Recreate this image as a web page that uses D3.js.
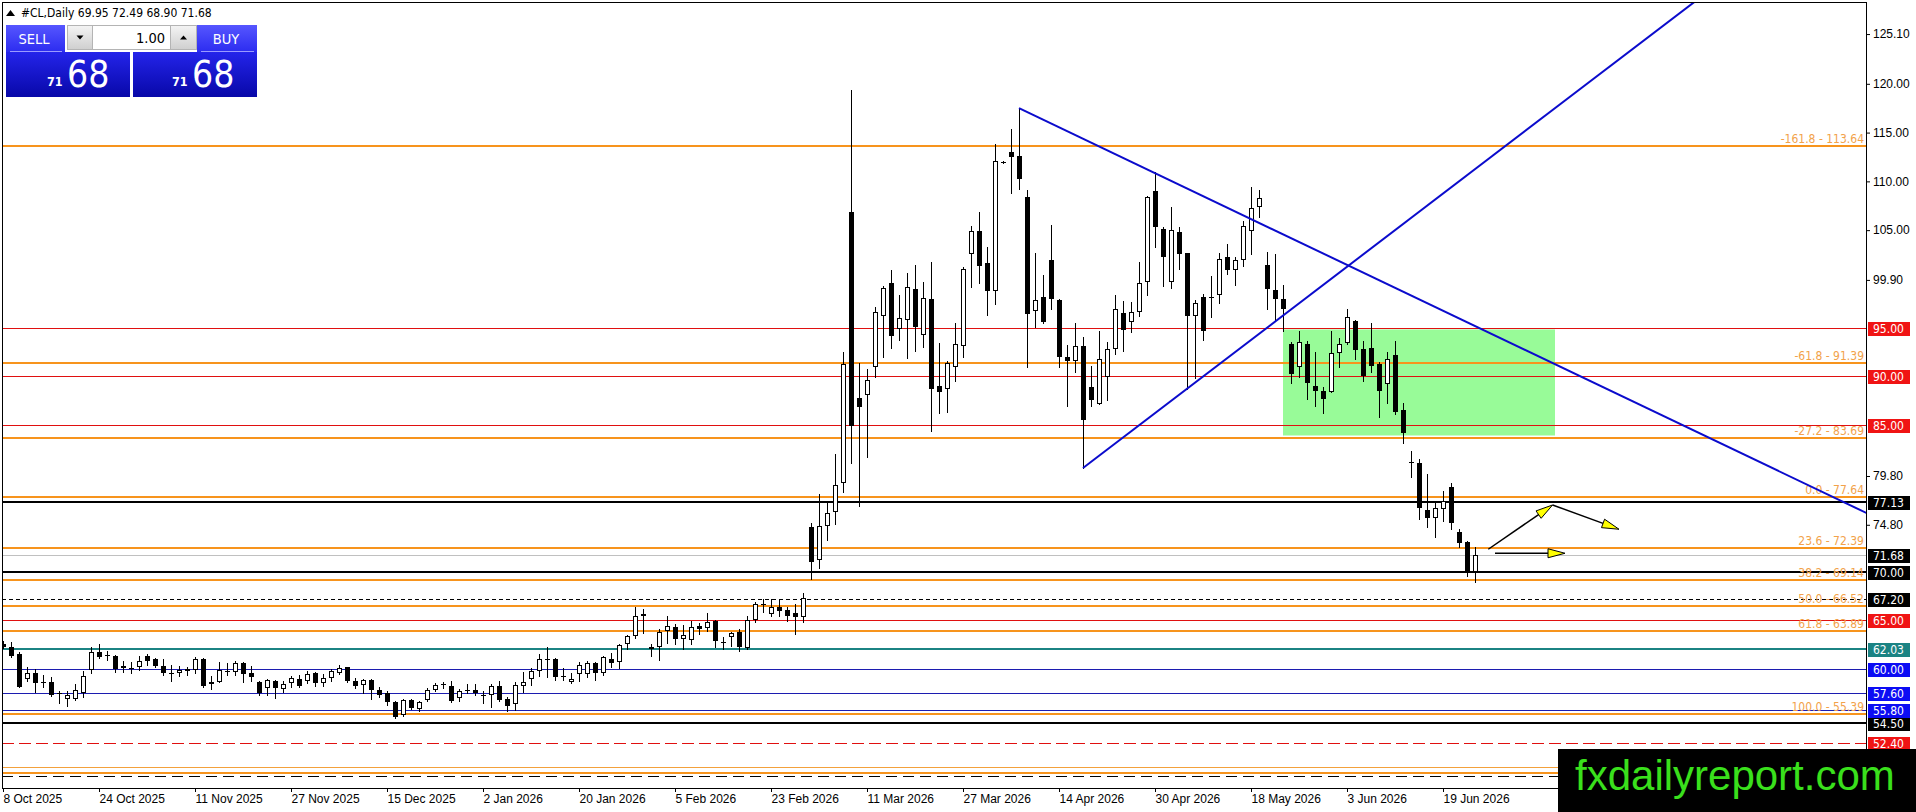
<!DOCTYPE html>
<html>
<head>
<meta charset="utf-8">
<title>#CL,Daily</title>
<script src="https://cdnjs.cloudflare.com/ajax/libs/d3/7.8.5/d3.min.js"></script>
<style>
html, body { margin: 0; padding: 0; background: #fff; overflow: hidden; }
svg { display: block; font-family: 'DejaVu Sans Condensed', 'Liberation Sans', sans-serif; }
</style>
</head>
<body>
<svg id="chart" width="1916" height="812"></svg>
<script>
// daily OHLC, 8 Oct 2025 .. 25 Jun 2026
var opens = [62.6,62.25,61.57,59.0,59.6,58.7,58.73,57.6,56.93,56.93,
 57.6,59.93,61.74,61.5,61.39,60.1,60.25,60.27,61.36,61.05,
 60.34,59.7,59.59,60.03,59.93,61.05,58.7,58.66,59.8,59.69,
 60.61,59.59,58.7,58.08,58.83,57.95,58.56,59.0,58.83,59.59,
 58.56,59.07,59.62,60.2,58.83,58.42,58.9,57.88,57.54,56.61,
 55.25,56.85,55.93,56.85,57.88,
 58.4,58.32,57.05,57.8,57.87,57.35,57.39,58.32,56.95,56.44,
 58.25,58.96,59.85,61.0,61.05,59.3,58.66,59.51,59.51,60.64,
 59.58,61.05,60.71,62.59,63.44,65.42,62.07,62.24,63.95,64.29,
 63.1,63.0,64.46,64.19,64.9,62.8,63.27,63.78,62.14,65.05,
 66.6,65.66,66.34,66.07,65.73,65.32,
 74.6,71.2,74.71,76.08,79.05,106.81,87.79,88.13,91.0,96.23,
 99.54,94.86,95.78,98.96,94.28,97.94,89.05,88.71,91.0,93.15,
 102.55,104.94,101.59,98.79,112.0,112.96,112.62,108.42,96.74,98.17,
 101.93,97.87,92.03,91.62,93.15,88.95,87.18,89.9,92.81,96.46,
 95.54,96.57,99.64,109.03,105.11,99.64,104.76,102.65,96.19,98.17,
 98.2,98.38,102.2,100.91,101.93,104.93,107.33,101.45,98.86,97.93,
 93.32,91.0,93.32,89.05,88.54,88.37,92.37,93.42,95.71,92.81,
 92.91,91.27,89.22,92.23,86.56,81.3,81.1,76.32,75.5,76.42,
 78.71,74.03,73.0,69.95];
var highs = [62.9,62.76,61.74,60.2,60.03,59.35,59.18,57.81,57.81,58.49,
 59.86,62.25,62.59,61.91,61.45,60.88,60.71,61.39,61.57,61.1,
 61.05,60.44,60.37,60.2,61.29,61.1,59.25,60.71,60.61,60.88,
 60.71,60.37,58.83,59.0,58.9,58.76,59.25,59.45,59.79,59.69,
 59.52,60.03,60.47,60.27,59.11,59.0,59.0,58.22,57.81,56.71,
 56.92,56.96,56.78,58.08,58.56,
 58.66,58.83,57.97,58.49,58.49,57.80,58.49,58.83,57.12,58.66,
 59.68,60.12,61.56,62.31,61.1,60.12,59.58,60.71,60.88,60.77,
 61.39,61.63,62.59,63.54,66.41,66.17,62.59,64.12,65.49,64.63,
 64.56,64.9,64.7,65.73,65.05,63.27,63.78,64.12,65.49,66.85,
 67.2,67.2,67.2,66.34,66.68,67.78,
 74.95,77.96,76.99,82.05,92.54,119.35,91.34,90.76,97.15,99.3,
 100.9,98.38,100.57,101.45,99.64,101.69,93.39,91.62,95.44,101.18,
 105.45,106.81,103.3,113.82,112.1,115.35,117.5,109.1,102.62,100.43,
 105.55,97.93,93.25,95.44,94.0,91.1,94.62,93.5,98.38,97.76,
 97.59,101.69,108.52,110.91,105.28,107.33,105.28,102.65,97.83,98.45,
 100.32,102.61,103.57,102.27,105.89,109.44,109.1,102.71,102.54,99.4,
 93.49,94.69,93.6,92.47,88.88,94.69,93.93,96.91,95.81,93.6,
 95.44,91.45,92.47,93.6,87.24,82.32,81.54,80.0,77.0,78.3,
 79.05,74.37,73.17,72.49];
var lows = [62.2,61.22,58.15,58.83,57.64,58.15,57.23,56.5,56.27,56.86,
 57.13,59.6,61.15,60.98,59.69,59.69,59.6,59.93,60.47,60.2,
 59.45,58.76,59.28,59.45,59.59,58.15,57.98,58.66,59.35,59.35,
 58.66,58.83,57.30,57.3,57.02,57.64,58.22,58.22,58.56,58.32,
 58.32,58.83,59.52,58.66,58.08,57.57,56.89,57.13,56.37,54.97,
 55.15,55.93,55.76,56.78,57.74,
 58.08,56.61,56.78,57.56,57.39,56.5,56.17,56.78,55.69,55.83,
 57.63,58.39,59.34,59.17,58.9,58.9,58.56,58.83,59.17,58.9,
 59.44,60.26,60.09,62.07,63.2,63.68,61.39,60.98,62.65,62.59,
 62.07,62.59,63.61,63.95,62.31,62.07,62.41,61.83,62.07,64.8,
 65.83,65.49,65.49,64.98,63.61,64.8,
 69.25,70.4,73.24,74.88,78.13,81.10,76.76,81.71,89.91,91.96,
 92.88,93.73,91.89,92.57,92.98,84.37,86.22,86.32,89.5,92.03,
 99.2,99.54,96.33,97.42,111.9,108.76,109.21,90.93,95.1,95.44,
 96.91,90.93,87.01,90.42,80.62,87.01,87.18,87.6,92.3,92.57,
 94.52,96.22,98.34,103.23,99.3,99.06,101.01,88.71,89.84,93.73,
 96.05,97.49,100.49,99.4,101.35,102.54,106.37,96.91,95.71,94.69,
 89.29,89.98,87.69,87.0,86.22,88.37,90.93,93.32,91.79,89.57,
 90.5,85.88,87.24,86.2,83.15,79.66,75.39,74.54,73.51,75.22,
 74.37,72.49,69.59,68.90];
var closes = [62.3,61.39,58.22,59.6,58.56,58.66,57.30,57.55,57.37,57.88,
 59.31,61.8,61.29,61.45,60.03,60.34,60.15,60.88,60.88,60.37,
 59.59,59.65,59.93,59.79,61.05,58.32,58.49,59.93,59.8,60.61,
 59.52,59.18,57.54,58.9,58.08,58.49,59.07,58.32,59.52,58.56,
 59.11,59.79,60.1,58.76,58.32,58.9,57.88,57.4,56.61,55.08,
 56.85,56.03,56.68,57.88,58.39,
 58.45,56.78,57.73,57.85,57.53,57.3,58.32,56.88,56.27,58.42,
 58.73,59.78,61.05,61.0,59.17,59.25,58.96,60.47,60.6,59.58,
 61.29,60.67,62.48,63.44,65.49,65.66,62.31,63.78,64.39,63.1,
 63.54,64.29,64.12,64.8,62.86,62.75,63.68,62.24,65.05,66.68,
 66.68,66.34,66.0,65.49,65.39,67.3,
 70.96,74.7,75.97,78.88,91.27,84.96,86.84,89.63,96.64,99.06,
 94.18,95.99,99.2,95.03,98.04,88.71,88.37,91.34,93.32,101.01,
 104.87,101.35,98.72,112.04,112.0,112.52,110.23,96.4,97.83,95.54,
 97.94,92.03,91.62,93.15,85.54,87.59,91.79,92.8,96.91,94.76,
 96.57,99.57,108.42,105.28,102.27,105.04,102.54,96.19,97.49,94.69,
 98.1,102.03,100.91,101.93,105.45,107.26,108.25,98.96,97.93,96.91,
 90.25,93.49,89.29,88.47,87.69,92.37,93.32,96.05,92.74,90.08,
 91.1,88.54,91.79,86.32,84.17,81.2,76.52,75.5,76.52,77.27,
 74.95,72.9,69.93,71.68];

var dateLabels = ["8 Oct 2025","24 Oct 2025","11 Nov 2025","27 Nov 2025","15 Dec 2025",
 "2 Jan 2026","20 Jan 2026","5 Feb 2026","23 Feb 2026","11 Mar 2026","27 Mar 2026",
 "14 Apr 2026","30 Apr 2026","18 May 2026","3 Jun 2026","19 Jun 2026"];
var dateTickBars = d3.range(0, 181, 12);
var priceTicks = [125.10, 120.00, 115.00, 110.00, 105.00, 99.90, 79.80, 74.80];

// drawn objects
var fiboLevels = [113.64, 91.39, 83.69, 77.64, 72.39, 69.14, 66.52, 63.89, 55.39];
var fiboRatios = ["-161.8", "-61.8", "-27.2", "0.0", "23.6", "38.2", "50.0", "61.8", "100.0"];
var redLevels = [95.00, 90.00, 85.00, 65.00];
var redDashLevels = [52.40];
var blackLevels = [77.13, 70.00, 54.50];
var blackDashLevels = [67.20];
var bidLevels = [71.68];
var tealLevels = [62.03];
var blueLevels = [60.00, 57.60, 55.80];
var lowOrangeThin = [50.00];
var lowOrangeThick = [49.39];
var lowBlackDash = [49.05];

var zoneBars = [160, 194];
var zonePrices = [94.82, 83.95];

// trend lines: anchor bar/price pairs, drawn as rays to the right
var trendStart = [[127, 117.5], [135, 80.62]];
var trendNext = [[233.0, 75.98], [211.3, 128.31]];

// arrows: [bar0, price0, bar1, price1]
var arrows = [[185.66, 72.29, 193.7, 76.83], [193.7, 76.83, 202.0, 74.34], [186.5, 71.88, 195.25, 71.88]];

var svg = d3.select("#chart");
var x = d3.scaleLinear().domain([0, 233]).range([3, 1867]);
var y = d3.scaleLinear().domain([95, 52.4]).range([327.7, 743.3]);

var defs = svg.append("defs");
defs.append("clipPath").attr("id", "plotClip")
  .append("rect").attr("x", 3).attr("y", 3).attr("width", 1864).attr("height", 785);
function vgrad(id, c0, c1) {
  var g = defs.append("linearGradient").attr("id", id).attr("x1", 0).attr("y1", 0).attr("x2", 0).attr("y2", 1);
  g.append("stop").attr("offset", "0%").attr("stop-color", c0);
  g.append("stop").attr("offset", "100%").attr("stop-color", c1);
}
vgrad("hdrBlue", "#5656ff", "#2c2cf0");
vgrad("bigBlue", "#2424ea", "#0808a8");
vgrad("btnGray", "#f4f4f4", "#cfcfcf");

var plot = svg.append("g").attr("clip-path", "url(#plotClip)");

// green zone
plot.append("rect")
  .attr("x", x(zoneBars[0])).attr("width", x(zoneBars[1]) - x(zoneBars[0]))
  .attr("y", y(zonePrices[0])).attr("height", y(zonePrices[1]) - y(zonePrices[0]))
  .attr("fill", "#98fb98");

function hlines(levels, color, width, dash) {
  plot.append("g").selectAll("line").data(levels).join("line")
    .attr("x1", 2).attr("x2", 1867)
    .attr("y1", function (d) { var v = Math.round(y(d)); return width % 2 ? v + 0.5 : v; })
    .attr("y2", function (d) { var v = Math.round(y(d)); return width % 2 ? v + 0.5 : v; })
    .attr("stroke", color).attr("stroke-width", width)
    .attr("stroke-dasharray", dash || null);
}
hlines(lowOrangeThin, "#f3a13c", 1);
hlines(lowOrangeThick, "#f7941d", 2);
hlines(lowBlackDash, "#000", 1, "11,6");
hlines(redDashLevels, "#e01010", 1, "12,5");
hlines(blueLevels, "#1c1cb0", 1);
hlines(tealLevels, "#1b8383", 2);
hlines(redLevels, "#e01010", 1);
hlines(bidLevels, "#c0c0c0", 1);
hlines(blackDashLevels, "#000", 1, "4,3");
hlines(blackLevels, "#000", 2);
hlines(fiboLevels, "#f7941d", 2);

// fibo texts
plot.append("g").selectAll("text").data(fiboLevels).join("text")
  .attr("x", 1864).attr("y", function (d) { return Math.round(y(d)) - 3; })
  .attr("text-anchor", "end").attr("font-size", 12).attr("fill", "#f2a24a")
  .text(function (d, i) { return fiboRatios[i] + " - " + d.toFixed(2); });

// candles
var bars = opens.map(function (o, i) { return { i: i, o: o, h: highs[i], l: lows[i], c: closes[i] }; });
var cg = plot.append("g");
cg.selectAll("line.wick").data(bars).join("line").attr("class", "wick")
  .attr("x1", function (d) { return x(d.i) + 0.5; }).attr("x2", function (d) { return x(d.i) + 0.5; })
  .attr("y1", function (d) { return Math.round(y(d.h)); }).attr("y2", function (d) { return Math.round(y(d.l)) + 1; })
  .attr("stroke", "#000").attr("stroke-width", 1);
var bodies = bars.filter(function (d) { return Math.abs(y(d.o) - y(d.c)) >= 2; });
var dojis = bars.filter(function (d) { return Math.abs(y(d.o) - y(d.c)) < 2; });
cg.selectAll("rect.body").data(bodies).join("rect").attr("class", "body")
  .attr("x", function (d) { return d.c >= d.o ? x(d.i) - 1.5 : x(d.i) - 2; })
  .attr("width", function (d) { return d.c >= d.o ? 4 : 5; })
  .attr("y", function (d) { var t = Math.round(y(Math.max(d.o, d.c))); return d.c >= d.o ? t + 0.5 : t; })
  .attr("height", function (d) {
    var t = Math.round(y(Math.max(d.o, d.c))), b = Math.round(y(Math.min(d.o, d.c)));
    return d.c >= d.o ? Math.max(b - t - 1, 1) : Math.max(b - t, 1);
  })
  .attr("fill", function (d) { return d.c >= d.o ? "#fff" : "#000"; })
  .attr("stroke", function (d) { return d.c >= d.o ? "#000" : "none"; })
  .attr("stroke-width", 1);
cg.selectAll("line.doji").data(dojis).join("line").attr("class", "doji")
  .attr("x1", function (d) { return x(d.i) - 2; }).attr("x2", function (d) { return x(d.i) + 3; })
  .attr("y1", function (d) { return Math.round(y(d.c)) + 0.5; }).attr("y2", function (d) { return Math.round(y(d.c)) + 0.5; })
  .attr("stroke", "#000").attr("stroke-width", 1);

// trend lines (rays)
plot.append("g").selectAll("line").data(trendStart).join("line")
  .attr("x1", function (d) { return x(d[0]); }).attr("y1", function (d) { return y(d[1]); })
  .attr("x2", x(300))
  .attr("y2", function (d, i) {
    var n = trendNext[i], m = (n[1] - d[1]) / (n[0] - d[0]);
    return y(d[1] + m * (300 - d[0]));
  })
  .attr("stroke", "#0b0bcc").attr("stroke-width", 2);

// arrows
var ag = plot.append("g");
arrows.forEach(function (a) {
  var x0 = x(a[0]), y0 = y(a[1]), x1 = x(a[2]), y1 = y(a[3]);
  var dx = x1 - x0, dy = y1 - y0, len = Math.sqrt(dx * dx + dy * dy);
  var ux = dx / len, uy = dy / len, nx = -uy, ny = ux;
  var bx = x1 - ux * 17, by = y1 - uy * 17;
  ag.append("line").attr("x1", x0).attr("y1", y0).attr("x2", bx).attr("y2", by)
    .attr("stroke", "#000").attr("stroke-width", 1.5);
  ag.append("polygon")
    .attr("points", [[x1, y1], [bx + nx * 4.5, by + ny * 4.5], [bx - nx * 4.5, by - ny * 4.5]].map(function (p) { return p.join(","); }).join(" "))
    .attr("fill", "#ffff00").attr("stroke", "#000").attr("stroke-width", 1);
});

// frame
svg.append("rect").attr("x", 2.5).attr("y", 2.5).attr("width", 1864).attr("height", 786)
  .attr("fill", "none").attr("stroke", "#000").attr("stroke-width", 1);

// price axis
var ya = svg.append("g").attr("transform", "translate(1867,0)")
  .call(d3.axisRight(y).tickValues(priceTicks).tickFormat(d3.format(".2f")).tickSize(3).tickSizeOuter(0));
ya.select(".domain").remove();
ya.selectAll("text").attr("x", 6).attr("font-size", 12).attr("font-family", null).attr("fill", "#000");
ya.selectAll("line").attr("stroke", "#000");

// date axis
var xa = svg.append("g").attr("transform", "translate(0,788)")
  .call(d3.axisBottom(x).tickValues(dateTickBars).tickFormat(function (d, i) { return dateLabels[i]; }).tickSize(4).tickSizeOuter(0));
xa.select(".domain").remove();
xa.selectAll("text").attr("text-anchor", "start").attr("y", 15).attr("dy", null)
  .attr("font-size", 12).attr("font-family", null).attr("fill", "#000");
xa.selectAll("line").attr("stroke", "#000");

// price labels on the axis
var labelGroups = [
  [redLevels, "#f01414"], [redDashLevels, "#f01414"], [blackLevels, "#000"], [blackDashLevels, "#000"],
  [bidLevels, "#000"], [tealLevels, "#1b8383"], [blueLevels, "#0c0cf4"]
];
var lg = svg.append("g");
labelGroups.forEach(function (grp) {
  var g = lg.append("g").selectAll("g").data(grp[0]).join("g")
    .attr("transform", function (d) { return "translate(1868," + (Math.round(y(d)) - 6) + ")"; });
  g.append("rect").attr("width", 42).attr("height", 14).attr("fill", grp[1]);
  g.append("text").attr("x", 5).attr("y", 11).attr("font-size", 12).attr("fill", "#fff")
    .text(function (d) { return d.toFixed(2); });
});

// header
svg.append("path").attr("d", "M6,16 L10.5,10 L15,16 Z").attr("fill", "#000");
svg.append("text").attr("x", 21).attr("y", 17).attr("font-size", 12).attr("fill", "#000")
  .text("#CL,Daily  " + [opens[184], highs[184], lows[184], closes[184]].map(function (v) { return v.toFixed(2); }).join(" "));

// one-click trading panel
var tp = svg.append("g");
tp.append("rect").attr("x", 6).attr("y", 52).attr("width", 124).attr("height", 45).attr("fill", "url(#bigBlue)");
tp.append("rect").attr("x", 133).attr("y", 52).attr("width", 124).attr("height", 45).attr("fill", "url(#bigBlue)");
tp.append("rect").attr("x", 6).attr("y", 25).attr("width", 59).attr("height", 27).attr("fill", "url(#hdrBlue)");
tp.append("rect").attr("x", 197).attr("y", 25).attr("width", 60).attr("height", 27).attr("fill", "url(#hdrBlue)");
tp.append("rect").attr("x", 67.5).attr("y", 25.5).attr("width", 25).attr("height", 24).attr("fill", "url(#btnGray)").attr("stroke", "#b4b4b4");
tp.append("rect").attr("x", 92.5).attr("y", 25.5).attr("width", 78).attr("height", 24).attr("fill", "#fff").attr("stroke", "#b4b4b4");
tp.append("rect").attr("x", 170.5).attr("y", 25.5).attr("width", 26).attr("height", 24).attr("fill", "url(#btnGray)").attr("stroke", "#b4b4b4");
tp.append("path").attr("d", "M76.5,35.5 L83.5,35.5 L80,39.5 Z").attr("fill", "#000");
tp.append("path").attr("d", "M180,39.5 L187,39.5 L183.5,35.5 Z").attr("fill", "#000");
tp.append("text").attr("x", 165).attr("y", 43).attr("text-anchor", "end").attr("font-size", 14.5).attr("fill", "#000").text("1.00");
tp.append("line").attr("x1", 10).attr("x2", 62).attr("y1", 51.5).attr("y2", 51.5).attr("stroke", "#9a9aff");
tp.append("line").attr("x1", 201).attr("x2", 254).attr("y1", 51.5).attr("y2", 51.5).attr("stroke", "#9a9aff");
tp.append("text").attr("x", 34).attr("y", 44).attr("text-anchor", "middle").attr("font-size", 14.5).attr("fill", "#fff").text("SELL");
tp.append("text").attr("x", 226).attr("y", 44).attr("text-anchor", "middle").attr("font-size", 14.5).attr("fill", "#fff").text("BUY");
var quote = closes[184].toFixed(2).split(".");
[[47, 67], [172, 192]].forEach(function (p) {
  tp.append("text").attr("x", p[0]).attr("y", 86).attr("font-size", 12.5).attr("font-weight", "bold").attr("fill", "#fff").text(quote[0]);
  tp.append("text").attr("x", p[1]).attr("y", 87).attr("font-size", 37).attr("fill", "#fff").text(quote[1]);
});

// watermark
svg.append("rect").attr("x", 1558).attr("y", 749).attr("width", 358).attr("height", 63).attr("fill", "#000");
svg.append("text").attr("x", 1575).attr("y", 790).attr("font-family", "'Liberation Sans', Arial, sans-serif")
  .attr("font-size", 42).attr("fill", "#3ae01c").text("fxdailyreport.com");
</script>
</body>
</html>
